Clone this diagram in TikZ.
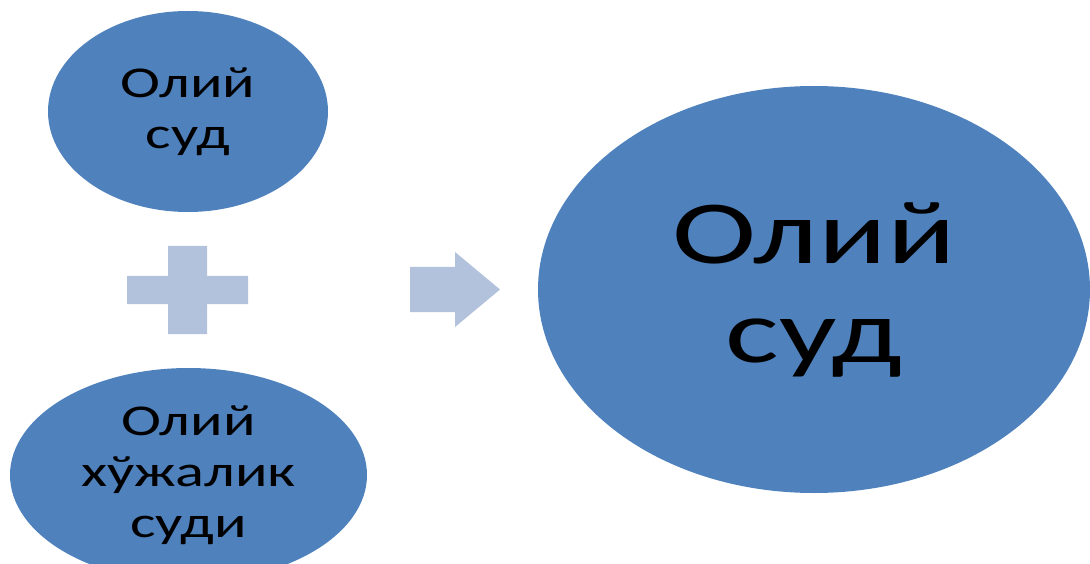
\documentclass[tikz,border=0pt]{standalone}
\usepackage{fontspec}
\setmainfont{Carlito}
\newfontfamily\widefont[FakeStretch=1.37]{Carlito}
\newfontfamily\widerfont[FakeStretch=1.41]{Carlito}
\usetikzlibrary{shapes.geometric}
\definecolor{blobblue}{HTML}{4F81BD}
\definecolor{signblue}{RGB}{178,193,220}
\tikzset{
  blob/.style={ellipse, fill=blobblue, draw=none, inner sep=0pt, align=center, text=black},
  smalltext/.style={font={\widefont\fontsize{44}{51}\selectfont}},
  bigtext/.style={font={\widerfont\fontsize{90}{99}\selectfont}},
  sign/.style={fill=signblue, draw=none}
}
\begin{document}
\begin{tikzpicture}[x=1pt,y=-1pt]
\useasboundingbox (0,0) rectangle (1090,564);
\clip (0,0) rectangle (1090,564);
\node[blob, smalltext, minimum width=280pt, minimum height=201pt] (sud) at (188,111.5) {Олий\\суд};
\node[blob, smalltext, minimum width=357pt, minimum height=214pt] (xuj) at (188.5,475) {Олий\\хўжалик\\суди};
\node[blob, bigtext, minimum width=552pt, minimum height=407pt] (big) at (814,289.5) {Олий\\суд};
% plus sign
\fill[sign] (127,276) -- (168,276) -- (168,246) -- (207,246) -- (207,276) -- (248,276)
  -- (248,304) -- (207,304) -- (207,334) -- (168,334) -- (168,304) -- (127,304) -- cycle;
% arrow
\fill[sign] (410,267) -- (455,267) -- (455,252) -- (500,289.5) -- (455,327) -- (455,312)
  -- (410,312) -- cycle;
\end{tikzpicture}
\end{document}
